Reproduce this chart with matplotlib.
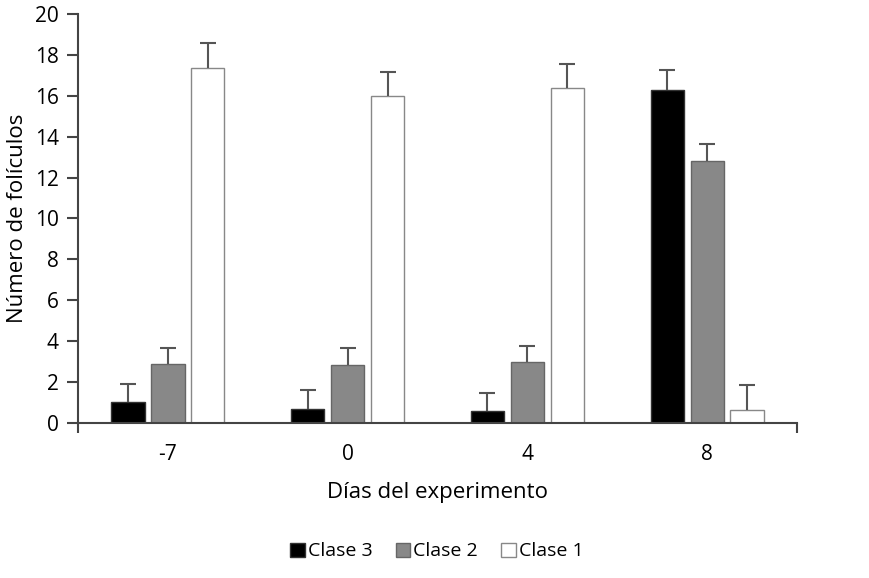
import numpy as np
import matplotlib
matplotlib.use("Agg")
import matplotlib.pyplot as plt

plt.rcParams['font.family'] = ['Open Sans', 'DejaVu Sans']

dias = ['-7', '0', '4', '8']
clases = ['Clase 3', 'Clase 2', 'Clase 1']
clase3 = [1.03, 0.70, 0.60, 16.3]
clase2 = [2.88, 2.85, 2.98, 12.8]
clase1 = [17.36, 16.0, 16.4, 0.63]
err3 = [0.87, 0.90, 0.87, 0.95]
err2 = [0.80, 0.82, 0.80, 0.85]
err1 = [1.24, 1.15, 1.15, 1.22]

fig = plt.figure(figsize=(8.7, 5.78), dpi=100)
ax = fig.add_axes([0.0897, 0.268, 0.8264, 0.708])

x = np.arange(len(dias))
w = 0.185
step = 0.222
axis_col = '#444444'
series = [(clase3, err3, '#000000', '#333333'),
          (clase2, err2, '#888888', '#666666'),
          (clase1, err1, '#ffffff', '#888888')]
for i, (vals, errs, fc, ec) in enumerate(series):
    pos = x + (i - 1) * step
    top = np.array(vals) + np.array(errs)
    ax.bar(pos, vals, width=w, color=fc, edgecolor=ec, linewidth=1,
           label=clases[i], zorder=2)
    # only the upper half of the error bar, no cap at the bar top
    ax.vlines(pos, vals, top, color='#555555', linewidth=1.5, zorder=3)
    ax.plot(pos, top, ls='none', marker='_', ms=12, mew=1.5, color='#555555', zorder=3)

ax.set_xlim(-0.5, 3.5)
ax.set_ylim(0, 20)
ax.set_yticks(range(0, 21, 2))
ax.set_xticks(x)
ax.set_xticklabels(dias)
ax.set_xticks([-0.5, 3.5], minor=True)
ax.tick_params(axis='x', which='major', length=0, pad=15, labelsize=15)
ax.tick_params(axis='x', which='minor', length=7, width=1.5, color=axis_col, direction='out')
ax.tick_params(axis='y', length=8, width=1.5, color=axis_col, pad=6, labelsize=15)

for s in ['top', 'right']:
    ax.spines[s].set_visible(False)
for s in ['left', 'bottom']:
    ax.spines[s].set_color(axis_col)
    ax.spines[s].set_linewidth(1.5)
ax.spines['left'].set_bounds(0, 20)

ax.set_xlabel('Días del experimento', fontsize=16, labelpad=12)
ax.set_ylabel('Número de folículos', fontsize=16, labelpad=5)

leg = fig.legend(loc='center', bbox_to_anchor=(0.502, 0.046), ncol=3, frameon=False,
                 fontsize=14, handlelength=0.75, handleheight=0.75, handletextpad=0.15,
                 columnspacing=1.2)

fig.savefig('out.png', dpi=100)
